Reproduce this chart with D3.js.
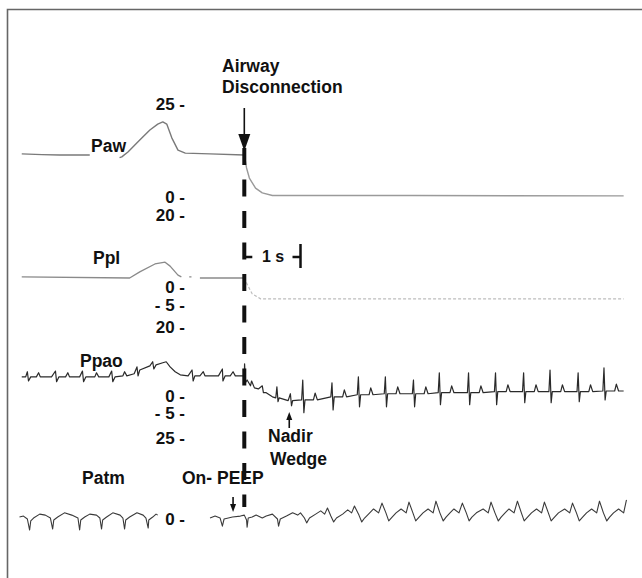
<!DOCTYPE html>
<html>
<head>
<meta charset="utf-8" />
<title>airway disconnection</title>
<style>
html, body {
	margin:0;
	padding:0;
	background:#ffffff;
}
svg {
	display:block;
	font-family: 'Liberation Sans', Arial, Helvetica, sans-serif;
}
</style>
</head>
<body>

<script type="text/javascript" src="https://cdnjs.cloudflare.com/ajax/libs/d3/7.8.5/d3.min.js"></script>

<script>

//=======================================
// data : time in s from disconnection, pressure in cmH2O
//=======================================

const pawTicks  = [25, 0],
      pplTicks  = [20, 0, -5],
      ppaoTicks = [20, 0, -5],
      patmTicks = [25, 0];

const pawPre = [[-3.96,11.6],[-3.6,11.4],[-3.29,11.3],[-2.75,11.3],[-2.74,null],[-2.22,10.6],[-2.18,10.8],[-2.07,12.1],
  [-1.86,15.3],[-1.68,18.0],[-1.54,19.6],[-1.45,20.2],[-1.38,19.6],[-1.29,15.9],[-1.18,12.6],[-1.05,11.8],[-0.61,11.6],[0,11.3]];
const pawPost = [[0,11.3],[0.04,7.8],[0.09,5.1],[0.20,2.4],[0.32,1.1],[0.50,0.4],[3.0,0.4],[6.75,0.3]];

const pplPre = [[-3.96,2.8],[-2.04,2.5],[-1.86,4.2],[-1.59,6.4],[-1.41,6.9],[-1.32,5.8],[-1.18,3.3],[-1.12,2.8],[-1.11,null],
  [-0.98,2.8],[-0.94,2.8],[-0.93,null],[-0.79,2.5],[0,2.5]];
const pplPost = [[0,2.5],[0.05,0.8],[0.14,-1.9],[0.29,-3.3],[6.75,-3.3]];

const ppaoPre = [[-3.96,5.5],[-3.89,5.5],[-3.86,7.0],[-3.84,4.3],[-3.80,5.5],[-3.70,5.5],[-3.66,6.7],[-3.63,5.5],
  [-3.43,5.5],[-3.36,7.2],[-3.34,4.1],[-3.30,5.5],[-3.18,5.5],[-3.14,6.7],[-3.11,5.5],
  [-2.93,5.5],[-2.88,7.2],[-2.86,4.1],[-2.82,5.5],[-2.66,5.5],[-2.63,6.7],[-2.59,5.5],
  [-2.41,5.5],[-2.36,7.2],[-2.34,4.1],[-2.30,5.5],[-2.16,5.8],[-2.13,7.0],[-2.09,5.8],
  [-1.96,6.4],[-1.91,8.4],[-1.89,5.8],[-1.86,7.5],[-1.68,8.7],[-1.63,9.9],[-1.61,7.8],[-1.57,9.0],[-1.45,9.6],[-1.39,9.9],
  [-1.32,8.4],[-1.23,7.0],[-1.14,6.1],[-1.00,5.8],[-0.93,7.5],[-0.91,4.3],[-0.88,5.8],[-0.79,5.8],[-0.73,7.0],[-0.70,5.8],
  [-0.46,5.8],[-0.39,7.8],[-0.38,4.3],[-0.34,5.8],[-0.25,5.8],[-0.20,7.0],[-0.16,5.8],[0,5.8]];

const ppaoPost = [[0,5.8],[0.005,9.3],[0.02,3.8],[0.05,4.6],[0.11,2.9],[0.13,4.3],[0.18,2.3],[0.25,2.0],[0.32,2.9],[0.34,0.9],[0.39,0.9],[0.5,-0.3],
  [0.56,-0.6],[0.58,2.6],[0.60,-1.7],[0.62,-0.6],
  [0.78,-1.4],[0.82,0.6],[0.84,-2.9],[0.86,-1.4],
  [1.02,-1.2],[1.04,4.6],[1.06,-4.9],[1.08,-1.2],[1.23,-1.2],[1.26,0.8],[1.30,-1.2],
  [1.54,-0.3],[1.56,3.8],[1.58,-4.1],[1.60,-0.3],[1.75,-0.3],[1.78,1.7],[1.82,-0.3],
  [2.01,0.3],[2.03,5.5],[2.05,-3.2],[2.07,0.3],[2.22,0.3],[2.25,2.3],[2.29,0.3],
  [2.49,0.6],[2.51,5.5],[2.53,-3.2],[2.55,0.6],[2.70,0.6],[2.73,2.6],[2.77,0.6],
  [2.99,0.6],[3.01,4.6],[3.03,-3.2],[3.05,0.6],[3.20,0.6],[3.23,2.6],[3.27,0.6],
  [3.45,0.9],[3.47,6.7],[3.49,-2.6],[3.51,0.9],[3.66,0.9],[3.69,2.9],[3.73,0.9],
  [3.97,0.9],[3.99,6.7],[4.01,-2.6],[4.03,0.9],[4.18,0.9],[4.21,2.9],[4.25,0.9],
  [4.45,1.2],[4.47,6.7],[4.49,-2.6],[4.51,1.2],[4.66,1.2],[4.69,3.2],[4.73,1.2],
  [4.95,1.2],[4.97,6.7],[4.99,-2.0],[5.01,1.2],[5.16,1.2],[5.19,3.2],[5.23,1.2],
  [5.42,1.2],[5.44,7.5],[5.46,-2.0],[5.48,1.2],[5.63,1.2],[5.66,3.2],[5.70,1.2],
  [5.92,1.2],[5.94,6.7],[5.96,-1.7],[5.98,1.2],[6.13,1.2],[6.16,3.2],[6.20,1.2],
  [6.38,1.4],[6.40,8.1],[6.42,-1.2],[6.44,1.4],[6.59,1.4],[6.62,3.4],[6.66,1.4],[6.75,1.4]];

const patmPre = [[-4.00,0.6],[-3.93,0.9],[-3.86,0],[-3.82,-3.4],[-3.80,-0.6],[-3.75,0.3],[-3.64,1.5],[-3.54,1.2],
  [-3.45,0.3],[-3.41,-3.1],[-3.39,-0.3],[-3.32,0.6],[-3.20,1.9],[-3.07,1.2],
  [-2.96,0.3],[-2.93,-3.4],[-2.91,-0.3],[-2.84,0.6],[-2.75,1.5],[-2.63,1.2],
  [-2.57,0.3],[-2.54,-3.1],[-2.52,-0.3],[-2.45,0.6],[-2.34,1.9],[-2.21,1.2],
  [-2.16,0.3],[-2.13,-3.1],[-2.11,-0.3],[-2.04,0.6],[-1.91,1.9],[-1.80,1.2],
  [-1.75,0.3],[-1.71,-2.8],[-1.70,-0.3],[-1.63,0.6],[-1.57,1.5],[-1.54,1.2]];

const patmPost = [[-0.61,0.3],[-0.52,0.9],[-0.43,0.3],[-0.39,-2.2],[-0.36,0],[-0.21,0.6],[-0.07,0.9],[0,1.2],
  [0.04,-0.3],[0.05,-2.5],[0.07,0.3],[0.14,0.6],[0.21,1.2],[0.32,0.3],[0.39,0.9],[0.50,1.5],
  [0.59,0],[0.61,-2.2],[0.64,0],[0.75,0.9],[0.86,1.9],[0.95,1.2],[1.00,1.9],[1.07,0.3],[1.11,-1.2],[1.16,0.3],
  [1.27,1.5],[1.36,2.5],[1.43,1.5],[1.48,3.4],[1.54,0.9],[1.59,-0.9],[1.64,0.3],
  [1.75,1.5],[1.84,2.8],[1.91,1.9],[1.96,4.0],[2.04,1.2],[2.09,-0.9],[2.14,0.3],
  [2.21,1.5],[2.30,3.1],[2.39,1.9],[2.45,4.9],[2.52,1.9],[2.57,-0.6],[2.63,0.6],[2.70,1.9],
  [2.79,3.1],[2.88,1.9],[2.93,5.2],[3.00,1.9],[3.05,-0.6],[3.11,0.6],[3.18,1.9],
  [3.27,3.1],[3.36,1.9],[3.41,5.5],[3.48,1.9],[3.54,-0.6],[3.59,0.6],[3.66,1.9],
  [3.73,3.1],[3.82,1.9],[3.88,4.9],[3.95,1.9],[4.00,-0.6],[4.05,0.6],[4.13,1.9],
  [4.25,3.1],[4.34,1.9],[4.39,5.2],[4.46,1.9],[4.52,-0.6],[4.57,0.6],[4.64,1.9],
  [4.71,3.1],[4.80,1.9],[4.86,5.5],[4.93,1.9],[4.98,-0.6],[5.04,0.6],[5.11,1.9],
  [5.20,3.1],[5.29,1.9],[5.34,5.2],[5.41,1.9],[5.46,-0.6],[5.52,0.6],[5.59,1.9],
  [5.70,3.1],[5.79,1.9],[5.84,4.9],[5.91,1.9],[5.96,-0.6],[6.02,0.6],[6.09,1.9],
  [6.18,3.1],[6.27,1.9],[6.32,5.5],[6.39,1.9],[6.45,-0.6],[6.50,0.6],[6.57,1.9],
  [6.66,3.1],[6.75,1.9],[6.80,5.9]];

// annotation times (s)
const tDisconnect = 0,
      tNadir = 0.80,
      tOnPeep = -0.20,
      scaleBar = [0, 1];


//=======================================
// chart
//=======================================

let width = 642,
    height = 578,

    x     = d3.scaleLinear().domain([0, 1]).range([244.3, 300.5]),
    yPaw  = d3.scaleLinear().domain([0, 25]).range([197, 104]),
    yPpl  = d3.scaleLinear().domain([-5, 20]).range([305, 215]),
    yPpao = d3.scaleLinear().domain([-5, 20]).range([413, 327]),
    yPatm = d3.scaleLinear().domain([0, 25]).range([519, 438]),

    tickFmt = v => v < 0 ? '- ' + Math.abs(v) + ' -' : v + ' -';

function trace(sel, data, y, stroke, sw, dash)	{
	sel.append('path')
		.attr('d', d3.line()
			.defined(d => d[1] !== null)
			.x(d => x(d[0]))
			.y(d => y(d[1]))
			(data))
		.attr('fill', 'none')
		.attr('stroke', stroke)
		.attr('stroke-width', sw)
		.attr('stroke-linejoin', 'round')
		.attr('stroke-dasharray', dash || null);
}

function arrow(sel, xx, y0, y1, head, hw)	{
	// y1 is tip
	let dir = y1 > y0 ? 1 : -1;
	sel.append('line')
		.attr('x1', xx).attr('x2', xx)
		.attr('y1', y0).attr('y2', y1 - dir * head)
		.attr('stroke', '#111').attr('stroke-width', 1.6);
	sel.append('path')
		.attr('d', 'M' + [xx - hw, y1 - dir * head] + 'L' + [xx + hw, y1 - dir * head] + 'L' + [xx, y1] + 'Z')
		.attr('fill', '#111');
}

d3.select('body')
	.append('svg')
		.attr('width', width)
		.attr('height', height)
		.call(sel => {

			// frame
			sel.append('path')
				.attr('d', 'M7.5,578V9.5H642')
				.attr('fill', 'none')
				.attr('stroke', '#666')
				.attr('stroke-width', 1.6);

			//=====================
			// traces
			//=====================
			sel.append('g').attr('class', 'traces')
				.call(g => {
					trace(g, pawPre, yPaw, '#7a7a7a', 1.4);
					trace(g, pawPost, yPaw, '#9a9a9a', 1.4);
					trace(g, pplPre, yPpl, '#8a8a8a', 1.3);
					trace(g, pplPost, yPpl, '#bdbdbd', 1.2, '3 2');
					trace(g, ppaoPre, yPpao, '#2a2a2a', 1.2);
					trace(g, ppaoPost, yPpao, '#2a2a2a', 1.2);
					trace(g, patmPre, yPatm, '#3a3a3a', 1.1);
					trace(g, patmPost, yPatm, '#3a3a3a', 1.1);
				});

			//=====================
			// tick labels
			//=====================
			sel.append('g').attr('class', 'ticks')
				.attr('font-size', '17px')
				.attr('font-weight', 'bold')
				.attr('text-anchor', 'end')
				.attr('fill', '#111')
				.call(g => {
					[[pawTicks, yPaw], [pplTicks, yPpl], [ppaoTicks, yPpao], [patmTicks, yPatm]]
						.forEach(([ticks, y]) => {
							g.selectAll(null).data(ticks)
								.enter()
									.append('text')
										.attr('x', 185)
										.attr('y', d => y(d))
										.attr('dy', '0.36em')
										.text(tickFmt);
						});
				});

			//=====================
			// disconnection line
			//=====================
			sel.append('line')
				.attr('x1', x(tDisconnect)).attr('x2', x(tDisconnect))
				.attr('y1', 148).attr('y2', 507)
				.attr('stroke', '#111')
				.attr('stroke-width', 4)
				.attr('stroke-dasharray', '17 14.5');

			sel.append('g').call(g => arrow(g, x(tDisconnect), 108, 151, 17, 6));

			// 1 s bar
			sel.append('g').attr('class', 'scalebar')
				.attr('stroke', '#111').attr('stroke-width', 2.5)
				.call(g => {
					g.append('line').attr('x1', x(scaleBar[0])).attr('x2', x(scaleBar[0]) + 8).attr('y1', 257).attr('y2', 257);
					g.append('line').attr('x1', x(scaleBar[1]) - 8).attr('x2', x(scaleBar[1])).attr('y1', 257).attr('y2', 257);
					g.append('line').attr('x1', x(scaleBar[1])).attr('x2', x(scaleBar[1])).attr('y1', 244).attr('y2', 268);
				});

			sel.append('g').call(g => arrow(g, x(tNadir), 428, 412, 8, 3));
			sel.append('g').call(g => arrow(g, x(tOnPeep), 497, 512, 8, 3));

			//=====================
			// labels
			//=====================
			sel.append('g').attr('class', 'labels')
				.attr('font-size', '17.5px')
				.attr('font-weight', 'bold')
				.attr('fill', '#111')
				.selectAll('text').data([
					['Airway', 222, 71.5],
					['Disconnection', 222, 93],
					['Paw', 91, 152],
					['Ppl', 93, 263.5],
					['Ppao', 80, 366.5],
					['Patm', 82, 483.5],
					['On- PEEP', 182, 483.5],
					['Nadir', 268, 442],
					['Wedge', 270, 465],
				])
				.enter()
					.append('text')
						.attr('x', d => d[1])
						.attr('y', d => d[2])
						.text(d => d[0]);

			sel.append('text')
				.attr('x', 262).attr('y', 262)
				.attr('font-size', '16px')
				.attr('font-weight', 'bold')
				.attr('fill', '#111')
				.text('1 s');

		});

</script>

</body>
</html>
